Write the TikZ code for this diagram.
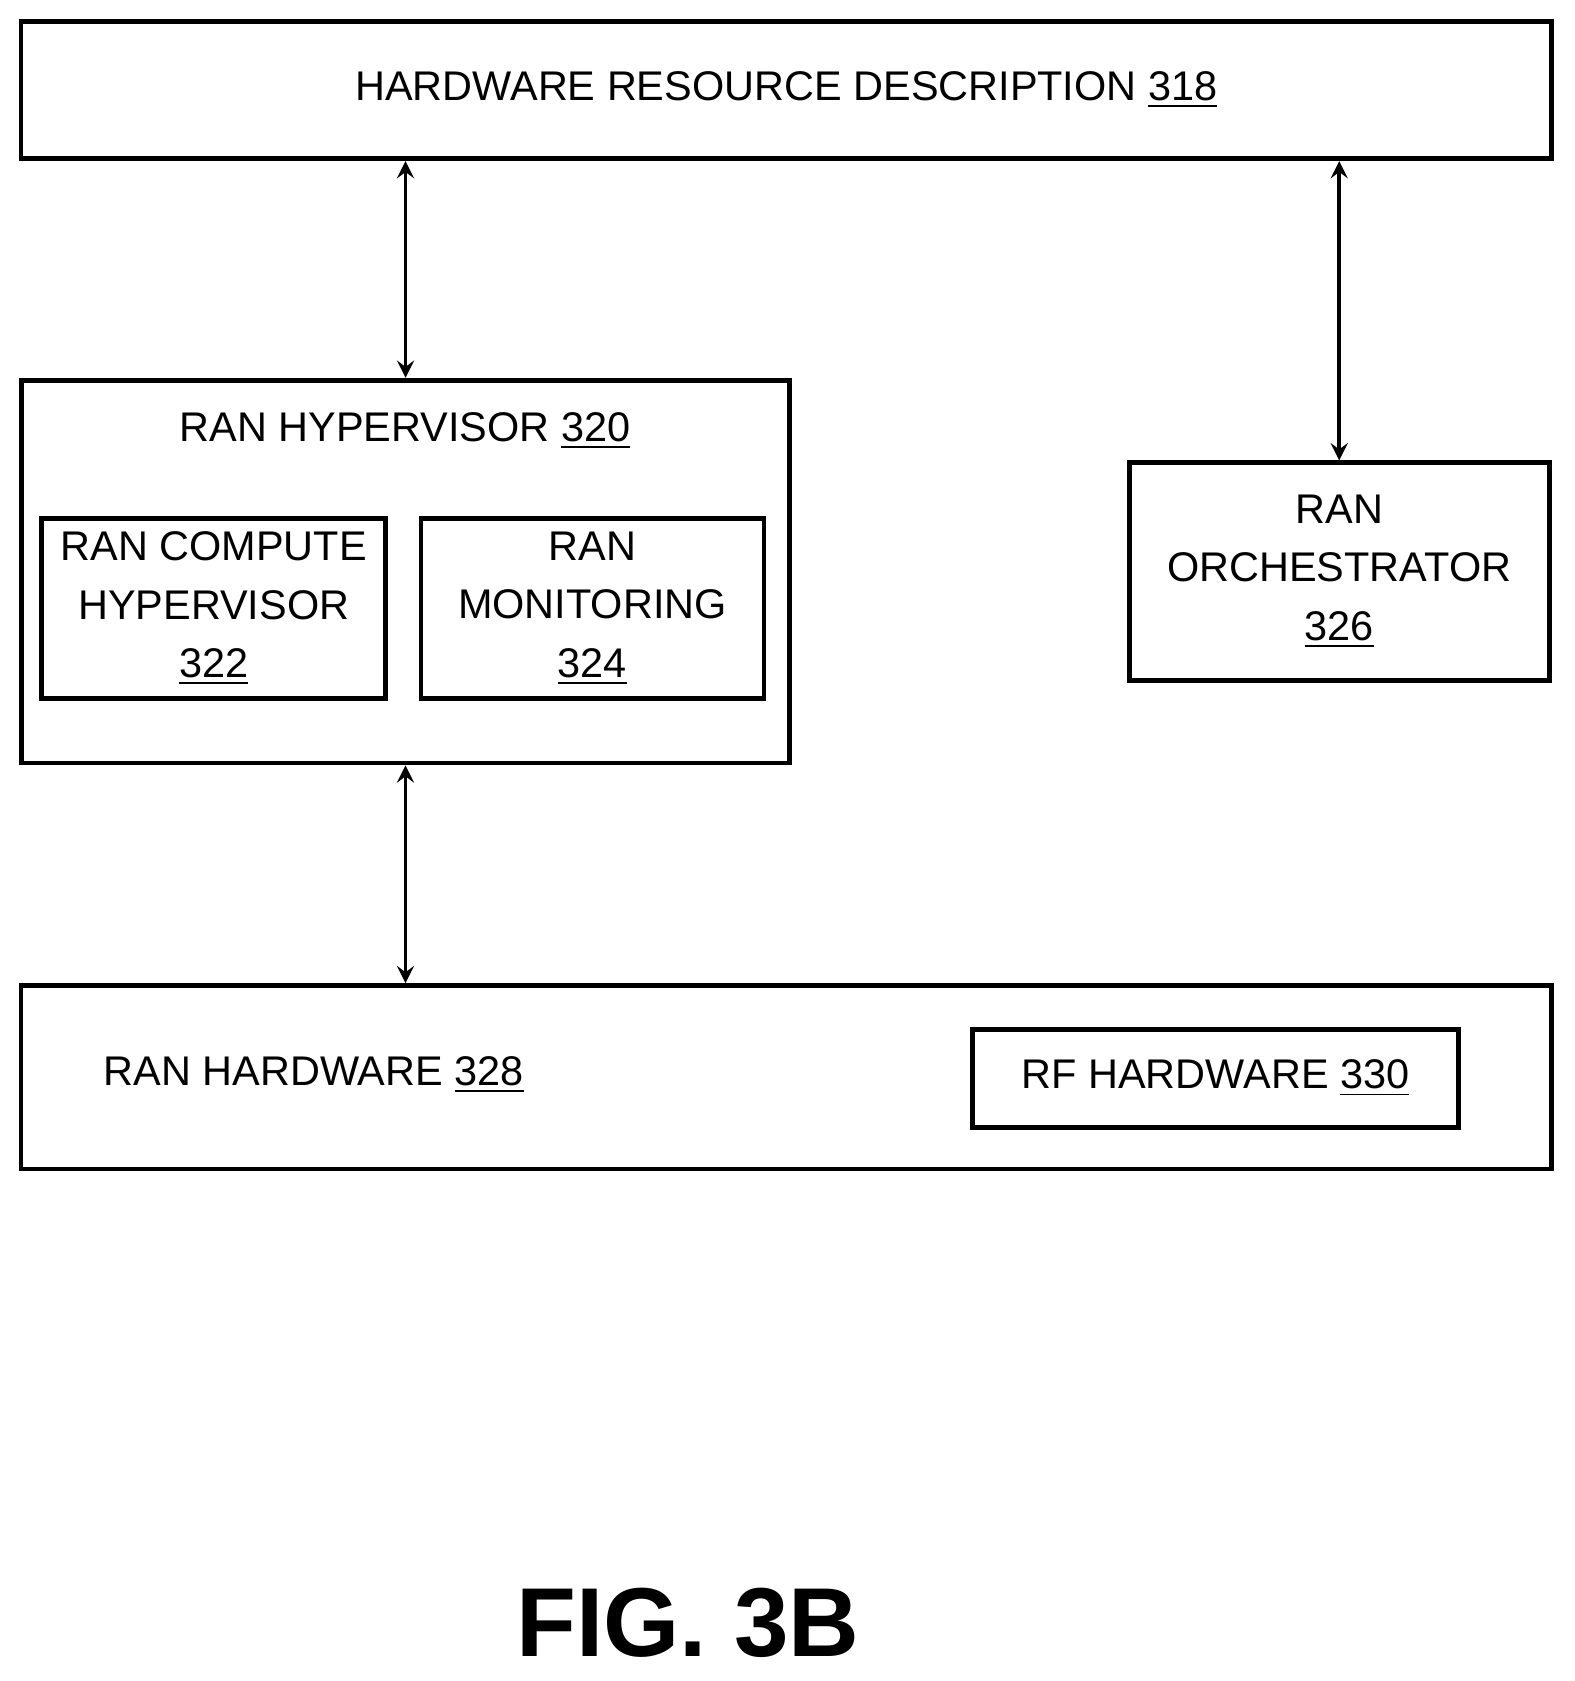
\documentclass[tikz,border=0pt]{standalone}
\usepackage{fontspec}
\setmainfont{Liberation Sans}
\usetikzlibrary{positioning}
\tikzset{
  blk/.style={draw, line width=1.3pt, inner sep=0pt, align=center, font=\fontsize{11}{15.5}\selectfont},
  link/.style={<->, >=stealth, line width=1pt}
}
\newcommand{\refnum}[1]{\underline{#1}}
\begin{document}
\begin{tikzpicture}[x=0.01cm, y=-0.01cm]
  \useasboundingbox (0,0) rectangle (1470,1569);
  % boxes
  \node[blk, minimum width=14.28cm, minimum height=1.28cm] (hrd) at (734,84) {HARDWARE RESOURCE DESCRIPTION \refnum{318}};
  \node[blk, minimum width=7.17cm, minimum height=3.57cm] (hyp) at (378.5,533.5) {};
  \node[font=\fontsize{11}{15.5}\selectfont] (hyplbl) at (378,402) {RAN HYPERVISOR \refnum{320}};
  \node[blk, minimum width=3.21cm, minimum height=1.68cm] (comp) at (199.5,568) {RAN COMPUTE\\HYPERVISOR\\\refnum{322}};
  \node[blk, minimum width=3.20cm, minimum height=1.68cm] (mon) at (553,568) {RAN\\MONITORING\\\refnum{324}};
  \node[blk, minimum width=3.92cm, minimum height=2.03cm] (orch) at (1250,533.5) {RAN\\ORCHESTRATOR\\\refnum{326}};
  \node[blk, minimum width=14.28cm, minimum height=1.71cm] (hw) at (734,1005.5) {};
  \node[font=\fontsize{11}{15.5}\selectfont] (hwlbl) at (293,1003) {RAN HARDWARE \refnum{328}};
  \node[blk, minimum width=4.53cm, minimum height=0.91cm] (rf) at (1134.5,1006.5) {RF HARDWARE \refnum{330}};
  \node[font=\fontsize{26}{30}\selectfont\bfseries] (fig) at (642,1515) {FIG. 3B};
  % links
  \draw[link] (hrd.south -| hyp.north) -- (hyp.north);
  \draw[link] (hrd.south -| orch.north) -- (orch.north);
  \draw[link] (hyp.south) -- (hw.north -| hyp.south);
\end{tikzpicture}
\end{document}
